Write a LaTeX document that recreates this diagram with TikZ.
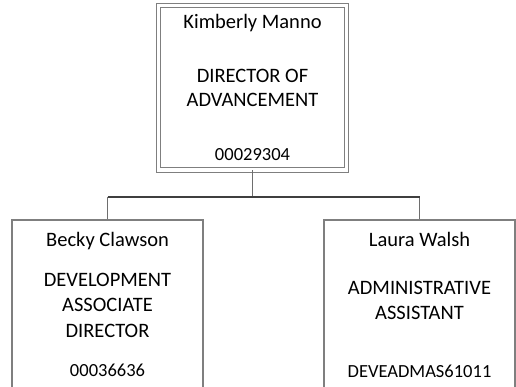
\documentclass[tikz,border=0pt]{standalone}
\usepackage{fontspec}
\setmainfont{Carlito}
\begin{document}
\begin{tikzpicture}[x=1pt,y=-1pt,
  box/.style={draw=boxgray, line width=1.1pt, rectangle, inner sep=0pt},
  topbox/.style={box, double=white, double distance=3.4pt, line width=0.9pt},
  lbl/.style={anchor=base, inner sep=0pt, font=\fontsize{20.5}{24}\selectfont},
  num/.style={anchor=base, inner sep=0pt, font=\fontsize{18.5}{22}\selectfont},
  stem/.style={draw=stemgray, line width=1.2pt},
  bar/.style={draw=bargray, line width=2pt}]
\definecolor{boxgray}{HTML}{7F7F7F}
\definecolor{stemgray}{HTML}{6E6E6E}
\definecolor{bargray}{HTML}{3F3F3F}
\useasboundingbox (0,0) rectangle (516,387);
\clip (0,0) rectangle (516,387);

% top position
\node[topbox, minimum width=188pt, minimum height=164.5pt] (tb) at (252.5,87.8) {};
\node[lbl] (tbname) at (252.5,28.5) {Kimberly Manno};
\node[lbl] (tbt1) at (252.5,83) {DIRECTOR OF};
\node[lbl] (tbt2) at (252.5,107) {ADVANCEMENT};
\node[num] (tbnum) at (252.5,161) {00029304};

% reports
\node[box, minimum width=191pt, minimum height=190pt] (bb) at (107.5,315) {};
\node[lbl] (bbname) at (107.5,247) {Becky Clawson};
\node[lbl] (bbt1) at (107.5,286) {DEVELOPMENT};
\node[lbl] (bbt2) at (107.5,311.5) {ASSOCIATE};
\node[lbl] (bbt3) at (107.5,337) {DIRECTOR};
\node[num] (bbnum) at (107.5,376) {00036636};

\node[box, minimum width=191pt, minimum height=190pt] (lb) at (419.5,315) {};
\node[lbl] (lbname) at (419.5,247) {Laura Walsh};
\node[lbl] (lbt1) at (419.5,294) {ADMINISTRATIVE};
\node[lbl] (lbt2) at (419.5,319.5) {ASSISTANT};
\node[num] (lbnum) at (419.5,377) {DEVEADMAS61011};

% connectors
\coordinate (bus) at (252.5,197);
\draw[stem] (tb.south) -- (bus);
\draw[stem] (bb.north) -- (bb.north |- bus);
\draw[stem] (lb.north) -- (lb.north |- bus);
\draw[bar] (bb.north |- bus) -- (lb.north |- bus);
\end{tikzpicture}
\end{document}
